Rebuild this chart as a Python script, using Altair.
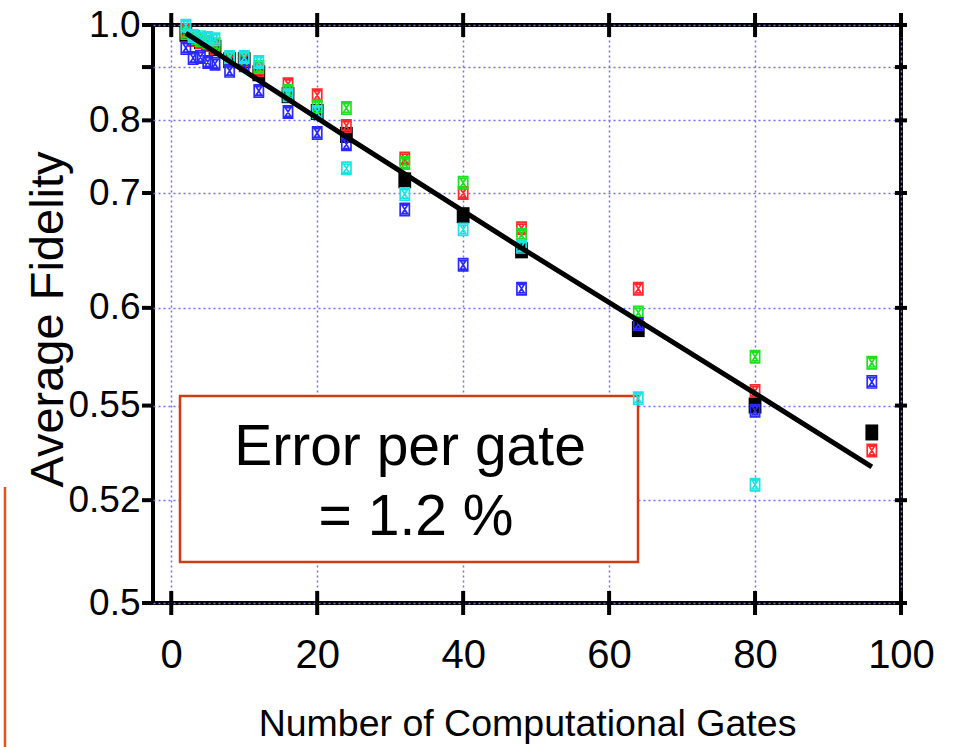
import altair as alt
import pandas as pd

# y axis of the original is linear in log(F - 0.47)
OFFSET = 0.47

gates = [2, 3, 4, 5, 6, 8, 10, 12, 16, 20, 24, 32, 40, 48, 64, 80, 96]
fid_red = [0.987, 0.962, 0.957, 0.950, 0.943, 0.913, 0.915, 0.894, 0.865, 0.844,
           0.791, 0.743, 0.700, 0.663, 0.613, 0.556, 0.534]
fid_green = [0.979, 0.967, 0.962, 0.957, 0.952, 0.920, 0.920, 0.900, 0.852, 0.824,
             0.821, 0.737, 0.712, 0.657, 0.597, 0.572, 0.569]
fid_blue = [0.943, 0.920, 0.922, 0.911, 0.907, 0.892, 0.904, 0.852, 0.814, 0.780,
            0.763, 0.682, 0.631, 0.613, 0.590, 0.548, 0.560]
fid_cyan = [0.998, 0.972, 0.969, 0.967, 0.964, 0.922, 0.922, 0.911, 0.844, 0.814,
            0.730, 0.699, 0.662, 0.646, 0.553, 0.524, None]
fid_mean = [0.977, 0.967, 0.959, 0.954, 0.943, 0.915, 0.915, 0.887, 0.844, 0.814,
            0.777, 0.715, 0.676, 0.643, 0.587, 0.550, 0.540]

fit_gates = [2, 24, 48, 64, 80, 96]
fit_fid = [0.979, 0.774, 0.645, 0.592, 0.555, 0.529]

series_names = ["red", "green", "blue", "cyan"]
series_colors = ["#ff2a2a", "#1fe01f", "#2a2aff", "#1fe3e3"]

x_ticks = [0, 20, 40, 60, 80, 100]
y_ticks = [0.5, 0.52, 0.55, 0.6, 0.7, 0.8, 0.9, 1.0]
y_tick_labels = ["0.5", "0.52", "0.55", "0.6", "0.7", "0.8", "", "1.0"]

box_lines = ["Error per gate", "= 1.2 %"]
x_title = "Number of Computational Gates"
y_title = "Average Fidelity"

# ---------------------------------------------------------------- tables
rows = []
for name, vals in zip(series_names, [fid_red, fid_green, fid_blue, fid_cyan]):
    for n, f in zip(gates, vals):
        if f is not None:
            rows.append({"n": n, "F": f, "series": name, "yt": f - OFFSET})
pts = pd.DataFrame(rows)
mean_df = pd.DataFrame({"n": gates, "F": fid_mean})
mean_df["yt"] = mean_df["F"] - OFFSET
fit_df = pd.DataFrame({"n": fit_gates, "F": fit_fid})
fit_df["yt"] = fit_df["F"] - OFFSET
xt_df = pd.DataFrame({"n": x_ticks})
yt_df = pd.DataFrame({"yt": [v - OFFSET for v in y_ticks]})
one = pd.DataFrame({"k": [0]})

W, H = 748, 578
REG = "Liberation Sans, Arial, sans-serif"

expr = "''"
for v, lab in reversed(list(zip(y_ticks, y_tick_labels))):
    expr = f"abs(datum.value - {v - OFFSET:.5f}) < 0.0005 ? '{lab}' : ({expr})"

GRID = dict(grid=True, gridColor="#6f6fff", gridDash=[2, 3], gridWidth=1.5, gridOpacity=1)

xaxis = alt.Axis(values=x_ticks, ticks=False, domain=False, labelFlush=False,
                 labelFont=REG, labelFontSize=40, labelPadding=32, labelColor="black",
                 labelOverlap=False,
                 title=x_title, titleFont=REG, titleFontSize=37.5, titleFontWeight="normal",
                 titleColor="black", titleX=W / 2, titleY=132, titleAlign="center",
                 titleBaseline="alphabetic", **GRID)
yaxis = alt.Axis(values=[v - OFFSET for v in y_ticks], ticks=False, domain=False,
                 labelExpr=expr, labelFont=REG, labelFontSize=37, labelPadding=13,
                 labelColor="black", labelOverlap=False, labelBaseline="middle",
                 title=y_title, titleFont=REG, titleFontSize=47, titleFontWeight="normal",
                 titleColor="black", titleAngle=270, titleX=-91, titleY=294,
                 titleAlign="center", titleBaseline="alphabetic", **GRID)

xscale = alt.Scale(domain=[-2.5, 100], nice=False, zero=False)
yscale = alt.Scale(type="log", domain=[0.03, 0.53], nice=False)


def X(field="n"):
    return alt.X(f"{field}:Q", scale=xscale, axis=xaxis)


def Y(field="yt"):
    return alt.Y(f"{field}:Q", scale=yscale, axis=yaxis)


box = alt.Chart(one).mark_rect(fill="white", stroke="#cc3d12", strokeWidth=2.5).encode(
    x=alt.value(27), x2=alt.value(485), y=alt.value(371), y2=alt.value(537))
txt1 = alt.Chart(one).mark_text(font=REG, fontSize=57, align="center", baseline="alphabetic",
                                color="black").encode(
    x=alt.value(257), y=alt.value(440), text=alt.value(box_lines[0]))
txt2 = alt.Chart(one).mark_text(font=REG, fontSize=57, align="center", baseline="alphabetic",
                                color="black").encode(
    x=alt.value(263), y=alt.value(510), text=alt.value(box_lines[1]))

mean_pts = alt.Chart(mean_df).mark_point(
    shape="M-0.8,-1L0.8,-1L0.8,1L-0.8,1Z", filled=True, color="black", size=256, opacity=1
).encode(x=X(), y=Y())

XBOX = ("M-0.75,-1L0.75,-1L0.75,1L-0.75,1Z "
        "M-0.45,-0.7L0.45,-0.7L-0.45,0.7L0.45,0.7Z")
run_pts = alt.Chart(pts).mark_point(shape=XBOX, filled=False, size=150, strokeWidth=1.7,
                                    opacity=1).encode(
    x=X(), y=Y(),
    color=alt.Color("series:N", scale=alt.Scale(domain=series_names, range=series_colors),
                    legend=None))

fit = alt.Chart(fit_df).mark_line(color="black", strokeWidth=5).encode(x=X(), y=Y())

tick_style = dict(color="black", strokeWidth=4)
bot_ticks = alt.Chart(xt_df).mark_rule(**tick_style).encode(
    x=X(), y=alt.value(H - 12), y2=alt.value(H + 12))
top_ticks = alt.Chart(xt_df).mark_rule(**tick_style).encode(
    x=X(), y=alt.value(-12), y2=alt.value(12))
left_ticks = alt.Chart(yt_df).mark_rule(**tick_style).encode(
    y=Y(), x=alt.value(-11), x2=alt.value(0))
right_ticks = alt.Chart(yt_df).mark_rule(**tick_style).encode(
    y=Y(), x=alt.value(W - 6), x2=alt.value(W + 6))

slide_edge = alt.Chart(one).mark_rule(color="#e4521f", strokeWidth=2.5).encode(
    x=alt.value(-148), y=alt.value(462), y2=alt.value(722))

chart = alt.layer(
    box, txt1, txt2, bot_ticks, top_ticks, left_ticks, right_ticks,
    mean_pts, run_pts, fit, slide_edge
).properties(
    width=W, height=H,
    autosize=alt.AutoSizeParams(type="none"),
    padding={"left": 153, "top": 25, "right": 54, "bottom": 144},
    background="white",
).configure_view(stroke="black", strokeWidth=4)

chart.save("out.html", embed_options={"renderer": "svg", "actions": False})
